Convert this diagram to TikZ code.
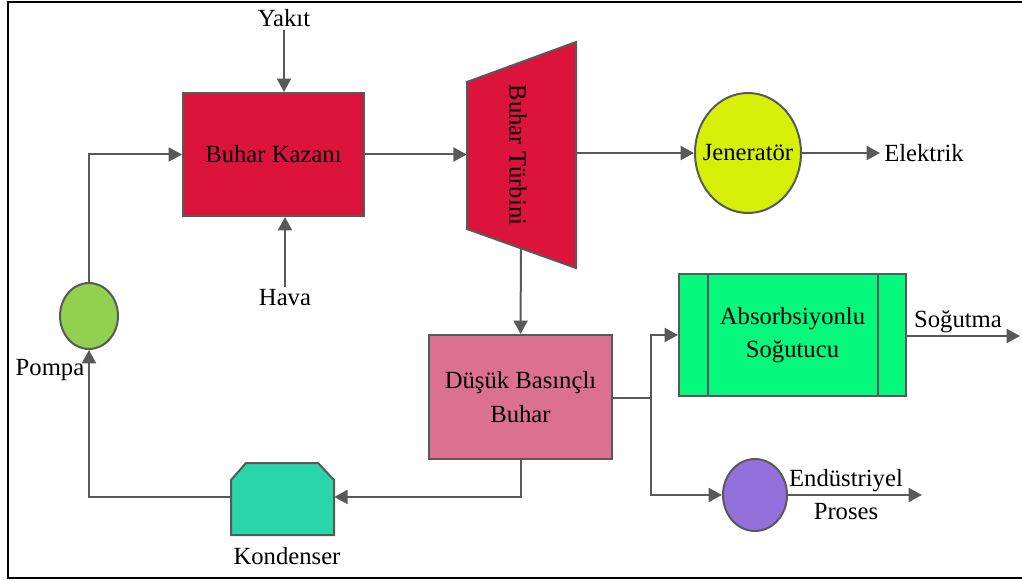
\documentclass[tikz,border=0pt]{standalone}
\usepackage{fontspec}
\setmainfont{Liberation Serif}
\usetikzlibrary{arrows.meta,shapes.geometric}
\definecolor{linegray}{RGB}{89,89,89}
\definecolor{kazanred}{RGB}{220,20,60}
\definecolor{genyellow}{RGB}{214,240,8}
\definecolor{lpsteam}{RGB}{219,112,147}
\definecolor{absgreen}{RGB}{5,250,125}
\definecolor{procpurple}{RGB}{147,112,219}
\definecolor{condteal}{RGB}{40,214,170}
\definecolor{pumpgreen}{RGB}{146,208,80}
\tikzset{
  every node/.style={font=\fontsize{18.5}{25}\selectfont, text=black},
  unit/.style={draw=linegray, line width=1.5pt, inner sep=0pt, align=center},
  flow/.style={draw=linegray, line width=1.5pt, -{Triangle[length=10pt,width=10.5pt]}},
  plain/.style={draw=linegray, line width=1.5pt},
  lbl/.style={inner sep=2pt}
}
\begin{document}
\begin{tikzpicture}[x=0.75pt,y=-0.75pt]
\useasboundingbox (0,0) rectangle (1022,581);
% outer frame
\draw[line width=2pt, black] (1022,2) -- (8,2) -- (8,578) -- (1022,578);

% boiler
\node[unit, fill=kazanred, minimum width=135.75pt, minimum height=92.25pt] (kazan) at (273.5,154.5) {Buhar Kazanı};
\node[lbl] (yakit) at (284,18) {Yakıt};
\node[lbl] (hava) at (285,298) {Hava};

% steam turbine
\filldraw[fill=kazanred, draw=linegray, line width=1.5pt] (467,82) -- (576,42) -- (576,268) -- (467,229) -- cycle;
\node[inner sep=0pt, minimum width=81.75pt, minimum height=20pt] (turb) at (521.5,155) {};
\node[rotate=-90] (turbtext) at (518,155) {Buhar Türbini};
\coordinate (turbout) at (521,248);

% generator
\node[unit, ellipse, fill=genyellow, minimum width=79.5pt, minimum height=90pt] (gen) at (748,153) {};
\node[inner sep=0pt] (gentext) at (gen.center) {Jeneratör};
\node[lbl, anchor=west, inner sep=3pt] (elek) at (880,153) {Elektrik};

% low pressure steam
\node[unit, fill=lpsteam, minimum width=137.25pt, minimum height=93pt] (dusuk) at (520.5,397) {Düşük Basınçlı\\Buhar};
\coordinate (junc) at (651,398);

% absorption chiller
\node[unit, fill=absgreen, minimum width=170.25pt, minimum height=91.5pt] (abs) at (792.5,335) {Absorbsiyonlu\\Soğutucu};
\draw[plain] (abs.north west) ++(30,0) -- ++(0,122);
\draw[plain] (abs.north east) ++(-29,0) -- ++(0,122);
\coordinate (cool) at (1020,336);
\node[lbl] (sogutma) at (958,322) {Soğutma};

% industrial process
\node[unit, ellipse, fill=procpurple, minimum width=48pt, minimum height=54pt] (proc) at (755,495) {};
\coordinate (procout) at (922,495);
\node[lbl] (endus) at (846,481) {Endüstriyel};
\node[lbl] (proses) at (846,512) {Proses};

% condenser: box with cut top corners
\filldraw[fill=condteal, draw=linegray, line width=1.5pt]
  (231,535) -- (231,480) -- (246,463) -- (318,463) -- (334,480) -- (334,535) -- cycle;
\node[inner sep=0pt, minimum width=77.25pt, minimum height=20pt] (kond) at (282.5,497) {};
\node[lbl] (kondl) at (287,556) {Kondenser};

% pump
\node[unit, ellipse, fill=pumpgreen, minimum width=43.5pt, minimum height=49.5pt] (pompa) at (89,316) {};
\node[lbl] (pompal) at (50,370) {Pompa};

% connections
\draw[flow] (yakit.south) -- (yakit.south |- kazan.north);
\draw[flow] (hava.north) -- (hava.north |- kazan.south);
\draw[flow] (kazan.east) -- (kazan.east -| turb.west);
\draw[flow] (turb.east |- gen.west) -- (gen.west);
\draw[flow] (gen.east) -- (elek.west);
\draw[flow] (turbout) -- (dusuk.north);
\draw[plain] (dusuk.east |- junc) -- (junc);
\draw[flow] (junc) |- (abs.west);
\draw[flow] (junc) |- (proc.west);
\draw[flow] (abs.east |- cool) -- (cool);
\draw[flow] (proc.east) -- (procout);
\draw[flow] (dusuk.south) |- (kond.east);
\draw[flow] (kond.west) -| (pompa.south);
\draw[flow] (pompa.north) |- (kazan.west);
\end{tikzpicture}
\end{document}
